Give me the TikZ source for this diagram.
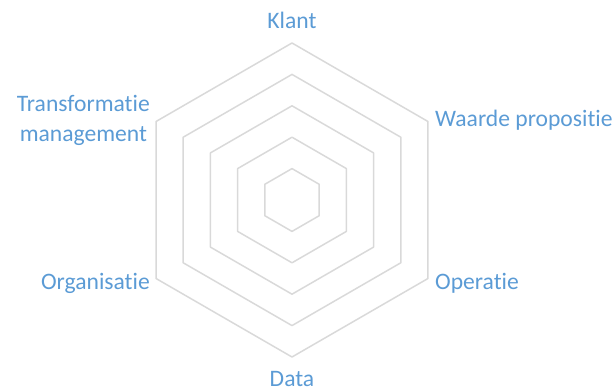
\documentclass[tikz,border=0pt]{standalone}
\usepackage{fontspec}
\setmainfont[Ligatures=NoCommon]{Carlito}
\usetikzlibrary{calc}
\definecolor{lblblue}{HTML}{5B9BD5}
\definecolor{gridgray}{HTML}{D9D9D9}
\begin{document}
\begin{tikzpicture}[x=1pt,y=-1pt,
  lbl/.style={text=lblblue,inner sep=0pt,font=\fontsize{23.6}{29.5}\selectfont},
  ring/.style={draw=gridgray,line width=1.5pt,line join=round}]
\useasboundingbox (0,0) rectangle (616,390);
\coordinate (c) at (292,200);
\foreach \k in {1,...,5}{
  \pgfmathsetmacro{\r}{31.4*\k}
  \draw[ring] ($(c)+(90:\r)$) -- ($(c)+(30:\r)$) -- ($(c)+(-30:\r)$) -- ($(c)+(-90:\r)$) -- ($(c)+(-150:\r)$) -- ($(c)+(150:\r)$) -- cycle;
}
\node[lbl,anchor=base] (klant) at (292,28.5) {Klant};
\node[lbl,anchor=base west] (waarde) at (435,127) {Waarde propositie};
\node[lbl,anchor=base west] (operatie) at (435,289) {Operatie};
\node[lbl,anchor=base] (data) at (292,386) {Data};
\node[lbl,anchor=base east] (org) at (150,289) {Organisatie};
\node[lbl,anchor=base east,align=center] (trans) at (150,141.5) {Transformatie\\management};
\end{tikzpicture}
\end{document}
